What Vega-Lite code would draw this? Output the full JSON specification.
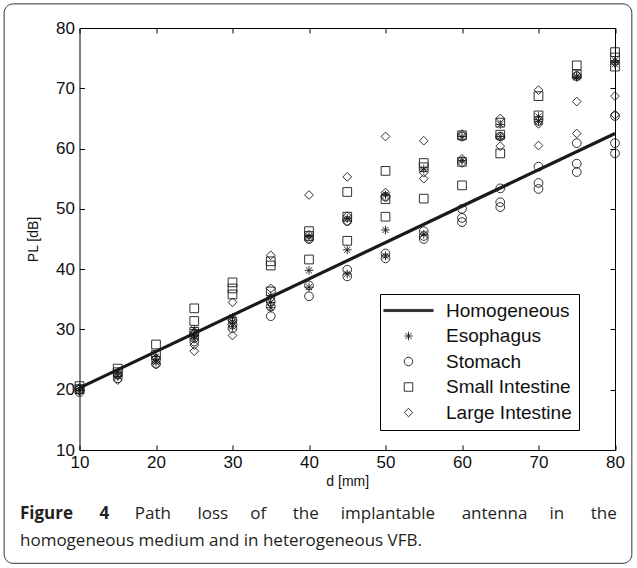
{
  "$schema": "https://vega.github.io/schema/vega-lite/v6.json",
  "autosize": "none",
  "width": 535.5,
  "height": 422,
  "padding": {"left": 79.5, "top": 28, "right": 22, "bottom": 118},
  "background": "white",
  "datasets": {
    "homog": [
      {"d": 10, "pl": 20.3},
      {"d": 80, "pl": 62.5}
    ],
    "tissue": [
      {"d": 10, "pl": 20.2, "tissue": "Esophagus"}, {"d": 10, "pl": 19.8, "tissue": "Esophagus"},
      {"d": 10, "pl": 19.6, "tissue": "Stomach"}, {"d": 10, "pl": 20.0, "tissue": "Stomach"},
      {"d": 10, "pl": 20.6, "tissue": "Small Intestine"}, {"d": 10, "pl": 20.1, "tissue": "Small Intestine"},
      {"d": 10, "pl": 19.8, "tissue": "Large Intestine"}, {"d": 10, "pl": 20.3, "tissue": "Large Intestine"},
      {"d": 15, "pl": 22.8, "tissue": "Esophagus"}, {"d": 15, "pl": 22.2, "tissue": "Esophagus"},
      {"d": 15, "pl": 22.5, "tissue": "Stomach"}, {"d": 15, "pl": 21.9, "tissue": "Stomach"},
      {"d": 15, "pl": 23.5, "tissue": "Small Intestine"}, {"d": 15, "pl": 22.9, "tissue": "Small Intestine"},
      {"d": 15, "pl": 22.4, "tissue": "Large Intestine"}, {"d": 15, "pl": 21.6, "tissue": "Large Intestine"},
      {"d": 20, "pl": 25.5, "tissue": "Esophagus"}, {"d": 20, "pl": 24.6, "tissue": "Esophagus"},
      {"d": 20, "pl": 25.0, "tissue": "Stomach"}, {"d": 20, "pl": 24.3, "tissue": "Stomach"},
      {"d": 20, "pl": 27.5, "tissue": "Small Intestine"}, {"d": 20, "pl": 25.8, "tissue": "Small Intestine"},
      {"d": 20, "pl": 25.2, "tissue": "Large Intestine"}, {"d": 20, "pl": 24.2, "tissue": "Large Intestine"},
      {"d": 25, "pl": 30.0, "tissue": "Esophagus"}, {"d": 25, "pl": 29.0, "tissue": "Esophagus"}, {"d": 25, "pl": 28.4, "tissue": "Esophagus"},
      {"d": 25, "pl": 29.2, "tissue": "Stomach"}, {"d": 25, "pl": 28.6, "tissue": "Stomach"}, {"d": 25, "pl": 28.0, "tissue": "Stomach"},
      {"d": 25, "pl": 33.5, "tissue": "Small Intestine"}, {"d": 25, "pl": 31.4, "tissue": "Small Intestine"}, {"d": 25, "pl": 29.6, "tissue": "Small Intestine"},
      {"d": 25, "pl": 29.4, "tissue": "Large Intestine"}, {"d": 25, "pl": 27.4, "tissue": "Large Intestine"}, {"d": 25, "pl": 26.4, "tissue": "Large Intestine"},
      {"d": 30, "pl": 32.0, "tissue": "Esophagus"}, {"d": 30, "pl": 31.2, "tissue": "Esophagus"}, {"d": 30, "pl": 30.5, "tissue": "Esophagus"},
      {"d": 30, "pl": 31.6, "tissue": "Stomach"}, {"d": 30, "pl": 30.8, "tissue": "Stomach"}, {"d": 30, "pl": 30.2, "tissue": "Stomach"},
      {"d": 30, "pl": 37.8, "tissue": "Small Intestine"}, {"d": 30, "pl": 36.8, "tissue": "Small Intestine"}, {"d": 30, "pl": 35.8, "tissue": "Small Intestine"},
      {"d": 30, "pl": 34.5, "tissue": "Large Intestine"}, {"d": 30, "pl": 31.5, "tissue": "Large Intestine"}, {"d": 30, "pl": 29.0, "tissue": "Large Intestine"},
      {"d": 35, "pl": 35.6, "tissue": "Esophagus"}, {"d": 35, "pl": 34.5, "tissue": "Esophagus"}, {"d": 35, "pl": 33.6, "tissue": "Esophagus"},
      {"d": 35, "pl": 34.6, "tissue": "Stomach"}, {"d": 35, "pl": 33.8, "tissue": "Stomach"}, {"d": 35, "pl": 32.2, "tissue": "Stomach"},
      {"d": 35, "pl": 41.3, "tissue": "Small Intestine"}, {"d": 35, "pl": 40.6, "tissue": "Small Intestine"}, {"d": 35, "pl": 36.3, "tissue": "Small Intestine"},
      {"d": 35, "pl": 42.3, "tissue": "Large Intestine"}, {"d": 35, "pl": 36.8, "tissue": "Large Intestine"}, {"d": 35, "pl": 35.2, "tissue": "Large Intestine"},
      {"d": 40, "pl": 45.4, "tissue": "Esophagus"}, {"d": 40, "pl": 39.8, "tissue": "Esophagus"}, {"d": 40, "pl": 37.0, "tissue": "Esophagus"},
      {"d": 40, "pl": 45.0, "tissue": "Stomach"}, {"d": 40, "pl": 37.3, "tissue": "Stomach"}, {"d": 40, "pl": 35.5, "tissue": "Stomach"},
      {"d": 40, "pl": 46.3, "tissue": "Small Intestine"}, {"d": 40, "pl": 45.5, "tissue": "Small Intestine"}, {"d": 40, "pl": 41.6, "tissue": "Small Intestine"},
      {"d": 40, "pl": 52.3, "tissue": "Large Intestine"}, {"d": 40, "pl": 45.7, "tissue": "Large Intestine"}, {"d": 40, "pl": 45.0, "tissue": "Large Intestine"},
      {"d": 45, "pl": 48.4, "tissue": "Esophagus"}, {"d": 45, "pl": 43.2, "tissue": "Esophagus"}, {"d": 45, "pl": 39.2, "tissue": "Esophagus"},
      {"d": 45, "pl": 48.0, "tissue": "Stomach"}, {"d": 45, "pl": 39.9, "tissue": "Stomach"}, {"d": 45, "pl": 38.8, "tissue": "Stomach"},
      {"d": 45, "pl": 52.8, "tissue": "Small Intestine"}, {"d": 45, "pl": 48.7, "tissue": "Small Intestine"}, {"d": 45, "pl": 44.7, "tissue": "Small Intestine"},
      {"d": 45, "pl": 55.3, "tissue": "Large Intestine"}, {"d": 45, "pl": 48.8, "tissue": "Large Intestine"}, {"d": 45, "pl": 47.9, "tissue": "Large Intestine"},
      {"d": 50, "pl": 52.3, "tissue": "Esophagus"}, {"d": 50, "pl": 46.5, "tissue": "Esophagus"}, {"d": 50, "pl": 42.2, "tissue": "Esophagus"},
      {"d": 50, "pl": 52.0, "tissue": "Stomach"}, {"d": 50, "pl": 42.6, "tissue": "Stomach"}, {"d": 50, "pl": 41.8, "tissue": "Stomach"},
      {"d": 50, "pl": 56.3, "tissue": "Small Intestine"}, {"d": 50, "pl": 51.6, "tissue": "Small Intestine"}, {"d": 50, "pl": 48.7, "tissue": "Small Intestine"},
      {"d": 50, "pl": 62.0, "tissue": "Large Intestine"}, {"d": 50, "pl": 52.7, "tissue": "Large Intestine"}, {"d": 50, "pl": 52.0, "tissue": "Large Intestine"},
      {"d": 55, "pl": 56.6, "tissue": "Esophagus"}, {"d": 55, "pl": 45.8, "tissue": "Esophagus"},
      {"d": 55, "pl": 46.3, "tissue": "Stomach"}, {"d": 55, "pl": 45.5, "tissue": "Stomach"}, {"d": 55, "pl": 45.0, "tissue": "Stomach"},
      {"d": 55, "pl": 57.6, "tissue": "Small Intestine"}, {"d": 55, "pl": 56.9, "tissue": "Small Intestine"}, {"d": 55, "pl": 51.7, "tissue": "Small Intestine"},
      {"d": 55, "pl": 61.3, "tissue": "Large Intestine"}, {"d": 55, "pl": 56.0, "tissue": "Large Intestine"}, {"d": 55, "pl": 55.0, "tissue": "Large Intestine"},
      {"d": 60, "pl": 62.0, "tissue": "Esophagus"}, {"d": 60, "pl": 58.0, "tissue": "Esophagus"},
      {"d": 60, "pl": 62.0, "tissue": "Stomach"}, {"d": 60, "pl": 50.0, "tissue": "Stomach"}, {"d": 60, "pl": 48.5, "tissue": "Stomach"}, {"d": 60, "pl": 47.8, "tissue": "Stomach"},
      {"d": 60, "pl": 62.2, "tissue": "Small Intestine"}, {"d": 60, "pl": 57.8, "tissue": "Small Intestine"}, {"d": 60, "pl": 53.9, "tissue": "Small Intestine"},
      {"d": 60, "pl": 62.4, "tissue": "Large Intestine"}, {"d": 60, "pl": 58.3, "tissue": "Large Intestine"}, {"d": 60, "pl": 57.6, "tissue": "Large Intestine"},
      {"d": 65, "pl": 64.0, "tissue": "Esophagus"}, {"d": 65, "pl": 62.0, "tissue": "Esophagus"},
      {"d": 65, "pl": 62.0, "tissue": "Stomach"}, {"d": 65, "pl": 53.4, "tissue": "Stomach"}, {"d": 65, "pl": 51.1, "tissue": "Stomach"}, {"d": 65, "pl": 50.3, "tissue": "Stomach"},
      {"d": 65, "pl": 64.3, "tissue": "Small Intestine"}, {"d": 65, "pl": 62.3, "tissue": "Small Intestine"}, {"d": 65, "pl": 59.2, "tissue": "Small Intestine"},
      {"d": 65, "pl": 65.0, "tissue": "Large Intestine"}, {"d": 65, "pl": 62.0, "tissue": "Large Intestine"}, {"d": 65, "pl": 60.4, "tissue": "Large Intestine"},
      {"d": 70, "pl": 65.3, "tissue": "Esophagus"}, {"d": 70, "pl": 64.5, "tissue": "Esophagus"},
      {"d": 70, "pl": 64.6, "tissue": "Stomach"}, {"d": 70, "pl": 57.0, "tissue": "Stomach"}, {"d": 70, "pl": 54.3, "tissue": "Stomach"}, {"d": 70, "pl": 53.3, "tissue": "Stomach"},
      {"d": 70, "pl": 68.7, "tissue": "Small Intestine"}, {"d": 70, "pl": 65.5, "tissue": "Small Intestine"},
      {"d": 70, "pl": 69.7, "tissue": "Large Intestine"}, {"d": 70, "pl": 64.1, "tissue": "Large Intestine"}, {"d": 70, "pl": 60.5, "tissue": "Large Intestine"},
      {"d": 75, "pl": 72.0, "tissue": "Esophagus"}, {"d": 75, "pl": 71.8, "tissue": "Esophagus"},
      {"d": 75, "pl": 72.0, "tissue": "Stomach"}, {"d": 75, "pl": 60.9, "tissue": "Stomach"}, {"d": 75, "pl": 57.5, "tissue": "Stomach"}, {"d": 75, "pl": 56.1, "tissue": "Stomach"},
      {"d": 75, "pl": 73.8, "tissue": "Small Intestine"}, {"d": 75, "pl": 72.3, "tissue": "Small Intestine"},
      {"d": 75, "pl": 72.2, "tissue": "Large Intestine"}, {"d": 75, "pl": 67.8, "tissue": "Large Intestine"}, {"d": 75, "pl": 62.5, "tissue": "Large Intestine"},
      {"d": 80, "pl": 74.6, "tissue": "Esophagus"}, {"d": 80, "pl": 74.0, "tissue": "Esophagus"},
      {"d": 80, "pl": 65.4, "tissue": "Stomach"}, {"d": 80, "pl": 60.9, "tissue": "Stomach"}, {"d": 80, "pl": 59.2, "tissue": "Stomach"},
      {"d": 80, "pl": 76.0, "tissue": "Small Intestine"}, {"d": 80, "pl": 75.1, "tissue": "Small Intestine"}, {"d": 80, "pl": 73.6, "tissue": "Small Intestine"},
      {"d": 80, "pl": 74.3, "tissue": "Large Intestine"}, {"d": 80, "pl": 68.7, "tissue": "Large Intestine"}, {"d": 80, "pl": 65.6, "tissue": "Large Intestine"}
    ]
  },
  "title": {
    "text": "Figure\u00a0\u00a0\u00a0\u00a0\u00a0\u00a04",
    "subtitle": [
      "\u200b\u00a0\u00a0\u00a0\u00a0\u00a0\u00a0\u00a0\u00a0\u00a0\u00a0\u00a0\u00a0\u00a0\u00a0\u00a0\u00a0\u00a0\u00a0\u00a0\u00a0\u00a0\u00a0\u00a0\u00a0\u00a0\u00a0Path\u00a0\u00a0\u00a0\u00a0\u00a0\u00a0loss\u00a0\u00a0\u00a0\u00a0\u00a0of\u00a0\u00a0\u00a0\u00a0\u00a0\u00a0the\u00a0\u00a0\u00a0\u00a0\u00a0implantable\u00a0\u00a0\u00a0\u00a0\u00a0\u00a0antenna\u00a0\u00a0\u00a0\u00a0\u00a0in\u00a0\u00a0\u00a0\u00a0\u00a0\u00a0the",
      "homogeneous medium and in heterogeneous VFB."
    ],
    "orient": "bottom",
    "anchor": "start",
    "frame": "group",
    "dx": -59.5,
    "offset": -58,
    "font": "Open Sans",
    "fontSize": 17,
    "fontWeight": "bold",
    "color": "#231f20",
    "subtitleFont": "Open Sans",
    "subtitleFontSize": 17,
    "subtitleFontWeight": "normal",
    "subtitleColor": "#231f20",
    "subtitleLineHeight": 27,
    "subtitlePadding": -17
  },
  "layer": [
    {
      "data": {"values": [{}]},
      "mark": {"type": "rect", "fill": null, "stroke": "#333333", "strokeWidth": 1, "cornerRadius": 9, "clip": false},
      "encoding": {
        "x": {"datum": 0.15, "type": "quantitative", "scale": {"domain": [10, 80], "nice": false, "zero": false},
              "axis": {"orient": "bottom", "offset": -5, "labels": false, "domain": false, "title": null, "values": [10, 20, 30, 40, 50, 60, 70, 80]}},
        "x2": {"datum": 82.2},
        "y": {"datum": 84.0, "type": "quantitative", "scale": {"domain": [10, 80], "nice": false, "zero": false},
              "axis": {"orient": "left", "offset": -5, "labels": false, "domain": false, "title": null, "values": [10, 20, 30, 40, 50, 60, 70, 80]}},
        "y2": {"datum": -8.8}
      }
    },
    {
      "data": {"name": "homog"},
      "mark": {"type": "line", "color": "#1a1a1a", "strokeWidth": 3.2},
      "encoding": {
        "x": {"field": "d", "type": "quantitative", "scale": {"domain": [10, 80], "nice": false, "zero": false},
              "axis": {"orient": "top", "offset": -5, "labels": false, "domain": false, "title": null, "values": [10, 20, 30, 40, 50, 60, 70, 80]}},
        "y": {"field": "pl", "type": "quantitative", "scale": {"domain": [10, 80], "nice": false, "zero": false},
              "axis": {"orient": "right", "offset": -5, "labels": false, "domain": false, "title": null, "values": [10, 20, 30, 40, 50, 60, 70, 80]}}
      }
    },
    {
      "data": {"name": "tissue"},
      "mark": {"type": "point", "filled": false, "color": "#1a1a1a", "strokeWidth": 0.9, "size": 76, "opacity": 1},
      "encoding": {
        "x": {"field": "d", "type": "quantitative", "title": "d [mm]",
              "scale": {"domain": [10, 80], "nice": false, "zero": false},
              "axis": {"orient": "bottom", "ticks": false, "domain": false, "labelFlush": false, "labelPadding": 4, "titlePadding": 4, "values": [10, 20, 30, 40, 50, 60, 70, 80]}},
        "y": {"field": "pl", "type": "quantitative", "title": "PL [dB]",
              "scale": {"domain": [10, 80], "nice": false, "zero": false},
              "axis": {"orient": "left", "ticks": false, "domain": false, "labelFlush": false, "labelPadding": 5, "titlePadding": 15, "values": [10, 20, 30, 40, 50, 60, 70, 80]}},
        "shape": {
          "field": "tissue", "type": "nominal",
          "scale": {
            "domain": ["Homogeneous", "Esophagus", "Stomach", "Small Intestine", "Large Intestine"],
            "range": ["M-5.9,-0.25H5.9M-5.9,0H5.9M-5.9,0.25H5.9", "M0,-1L0,1M-1,0L1,0M-0.7,-0.7L0.7,0.7M-0.7,0.7L0.7,-0.7", "circle", "square", "diamond"]
          },
          "legend": {
            "title": null,
            "orient": "none",
            "legendX": 300.5,
            "legendY": 266,
            "padding": 7,
            "strokeColor": "#000000",
            "fillColor": "#ffffff",
            "symbolSize": 72,
            "symbolStrokeColor": "#1a1a1a",
            "symbolStrokeWidth": 0.9,
            "symbolOffset": 12,
            "labelFont": "Liberation Sans",
            "labelFontSize": 19,
            "labelColor": "#111111",
            "labelOffset": 28,
            "rowPadding": 5.5,
            "labelExpr": "datum.label == 'Large Intestine' ? '\u00a0Large Intestine\u00a0' : datum.label"
          }
        }
      }
    }
  ],
  "resolve": {
    "scale": {"x": "independent", "y": "independent"},
    "axis": {"x": "independent", "y": "independent"}
  },
  "config": {
    "view": {"stroke": "#000000", "strokeWidth": 1},
    "axis": {
      "grid": false,
      "domainColor": "#000000",
      "domainWidth": 1,
      "tickColor": "#000000",
      "tickWidth": 1,
      "tickSize": 5,
      "labelFont": "Liberation Sans",
      "labelFontSize": 17,
      "labelColor": "#111111",
      "titleFont": "Liberation Sans",
      "titleFontSize": 14,
      "titleFontWeight": "normal",
      "titleColor": "#111111"
    }
  }
}
